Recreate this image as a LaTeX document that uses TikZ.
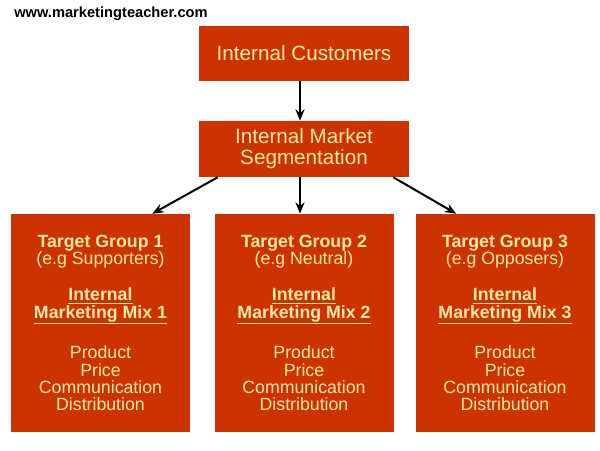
\documentclass[tikz,border=0pt]{standalone}
\usepackage{fontspec}
\setmainfont{Liberation Sans}
\usetikzlibrary{arrows.meta,positioning}
\definecolor{mtnarancs}{HTML}{CC3300}
\definecolor{mtkrem}{HTML}{FFE9A6}
\tikzset{
  doboz/.style={fill=mtnarancs,text=mtkrem,align=center,inner sep=0pt,minimum width=157.5pt,
                font=\fontsize{15.5}{15.75}\selectfont},
  csoport/.style={fill=mtnarancs,text=mtkrem,align=center,inner sep=0pt,minimum width=134.25pt,
                  minimum height=163.5pt,font=\fontsize{13.3}{13}\selectfont},
  nyil/.style={-{Stealth[length=3mm,width=2.4mm]},line width=1.5pt},
  cim/.style={anchor=base west,inner sep=0pt,font=\bfseries\fontsize{11}{11}\selectfont},
}

\begin{document}
\begin{tikzpicture}[x=0.75pt,y=-0.75pt]
  \fill[white] (0,0) rectangle (600,450);
  \useasboundingbox (0,0) rectangle (600,450);
  \node[cim] (url) at (14,17) {www.marketingteacher.com};
  \node[doboz,minimum height=41.25pt] (ugyfel) at (304,53.5) {Internal Customers};
  \node[doboz,minimum height=42pt] (szegm) at (304,149) {Internal Market\\Segmentation};
  \node[csoport] (cs1) at (100.5,323) {\textbf{Target Group 1}\\(e.g Supporters)\\[14pt]
    \underline{\textbf{Internal}}\\\underline{\textbf{Marketing Mix 1}}\\[15pt]
    Product\\Price\\Communication\\Distribution};
  \node[csoport] (cs2) at (304,323) {\textbf{Target Group 2}\\(e.g Neutral)\\[14pt]
    \underline{\textbf{Internal}}\\\underline{\textbf{Marketing Mix 2}}\\[15pt]
    Product\\Price\\Communication\\Distribution};
  \node[csoport] (cs3) at (505,323) {\textbf{Target Group 3}\\(e.g Opposers)\\[14pt]
    \underline{\textbf{Internal}}\\\underline{\textbf{Marketing Mix 3}}\\[15pt]
    Product\\Price\\Communication\\Distribution};
  \draw[nyil] ([xshift=-3pt]ugyfel.south) -- ([xshift=-3pt]szegm.north);
  \draw[nyil] ([xshift=14.25pt]szegm.south west) -- ([xshift=-28.5pt]cs1.north east);
  \draw[nyil] ([xshift=-3pt]szegm.south) -- ([xshift=-3pt]cs2.north);
  \draw[nyil] ([xshift=-12pt]szegm.south east) -- ([xshift=30.75pt]cs3.north west);
\end{tikzpicture}
\end{document}
